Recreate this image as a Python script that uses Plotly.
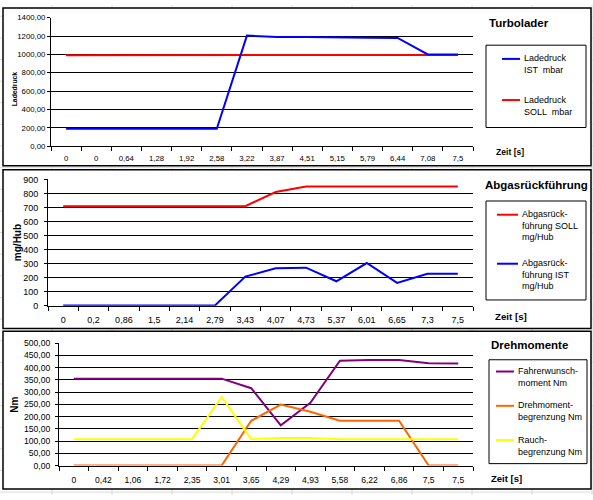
import plotly.graph_objects as go

# --- data ----------------------------------------------------------------
turbo_time = ["0", "0", "0,64", "1,28", "1,92", "2,58", "3,22", "3,87",
              "4,51", "5,15", "5,79", "6,44", "7,08", "7,5"]
ladedruck_ist = [190, 190, 190, 190, 190, 190, 1205, 1190, 1190, 1190, 1182, 1180, 1000, 1000]
ladedruck_soll = [990, 990, 990, 990, 990, 990, 990, 990, 990, 990, 990, 990, 990, 995]

abgas_time = ["0", "0,2", "0,86", "1,5", "2,14", "2,79", "3,43", "4,07",
              "4,73", "5,37", "6,01", "6,65", "7,3", "7,5"]
abgas_soll = [710, 710, 710, 710, 710, 710, 710, 810, 850, 850, 850, 850, 850, 850]
abgas_ist = [3, 3, 3, 3, 3, 3, 208, 268, 272, 175, 305, 163, 228, 228]

dreh_time = ["0", "0,42", "1,06", "1,72", "2,35", "3,01", "3,65", "4,29",
             "4,93", "5,58", "6,22", "6,86", "7,5", "7,5"]
fahrerwunsch = [355, 355, 355, 355, 355, 355, 316, 164, 256, 428, 431, 431, 418, 417]
drehmoment_begr = [0, 0, 0, 0, 0, 0, 183, 249, 220, 183, 183, 183, 0, 0]
rauch_begr = [108, 108, 108, 108, 108, 280, 108, 113, 113, 108, 108, 108, 108, 108]

panel_titles = ["Turbolader", "Abgasrückführung", "Drehmomente"]
y_titles = ["Ladedruck", "mg/Hub", "Nm"]
x_title = "Zeit [s]"

legend_turbo = ["Ladedruck<br>IST  mbar", "Ladedruck<br>SOLL  mbar"]
legend_abgas = ["Abgasrück-<br>führung SOLL<br>mg/Hub", "Abgasrück-<br>führung IST<br>mg/Hub"]
legend_dreh = ["Fahrerwunsch-<br>moment Nm", "Drehmoment-<br>begrenzung Nm", "Rauch-<br>begrenzung Nm"]

W, H = 593, 500
FONT = "Liberation Sans, Arial, sans-serif"
BLUE, RED = "#0000FF", "#FF0000"
PURPLE, ORANGE, YELLOW = "#800080", "#FF6600", "#FFFF00"


def px(x):
    return x / W


def py(y):
    return 1 - y / H


fig = go.Figure()

series = [
    (1, turbo_time, ladedruck_soll, RED),
    (1, turbo_time, ladedruck_ist, BLUE),
    (2, abgas_time, abgas_soll, RED),
    (2, abgas_time, abgas_ist, BLUE),
    (3, dreh_time, fahrerwunsch, PURPLE),
    (3, dreh_time, drehmoment_begr, ORANGE),
    (3, dreh_time, rauch_begr, YELLOW),
]
for n, cats, vals, col in series:
    fig.add_trace(go.Scatter(
        x=list(range(len(cats))), y=vals, mode="lines",
        line=dict(color=col, width=2),
        xaxis="x" if n == 1 else f"x{n}",
        yaxis="y" if n == 1 else f"y{n}",
        showlegend=False, hoverinfo="skip",
    ))

# panel geometry in pixels: plot area left, right, top, bottom
plots = {
    1: dict(l=51, r=473, t=13, b=144, cats=turbo_time, yr=[0, 1400], dt=200, fmt=".2f",
            tf=7.8, xlen=5, stand=0),
    2: dict(l=48, r=473, t=178, b=307, cats=abgas_time, yr=[0, 900], dt=100, fmt="d",
            tf=9, xlen=5, stand=4),
    3: dict(l=59, r=473, t=345, b=470, cats=dreh_time, yr=[0, 500], dt=50, fmt=".2f",
            tf=8.6, xlen=6, stand=3),
}

layout = dict(
    width=W, height=H, margin=dict(l=0, r=0, t=0, b=0),
    paper_bgcolor="white", plot_bgcolor="#C0C0C0",
    separators=",.", font=dict(family=FONT, color="black"),
)
for n, p in plots.items():
    xa = "xaxis" if n == 1 else f"xaxis{n}"
    ya = "yaxis" if n == 1 else f"yaxis{n}"
    layout[xa] = dict(
        domain=[px(p["l"]), px(p["r"])], anchor="y" if n == 1 else f"y{n}",
        range=[-0.5, len(p["cats"]) - 0.5],
        tickmode="array", tickvals=list(range(len(p["cats"]))), ticktext=p["cats"],
        ticks="outside", ticklen=p["xlen"], tickcolor="rgba(0,0,0,0)",
        minor=dict(tick0=-0.5, dtick=1, ticks="outside", ticklen=4,
                   tickcolor="black", showgrid=False),
        showgrid=False, zeroline=False, showline=True, linecolor="black", linewidth=1,
        tickfont=dict(size=p["tf"]), fixedrange=True,
    )
    layout[ya] = dict(
        domain=[py(p["b"]), py(p["t"])], anchor="x" if n == 1 else f"x{n}",
        range=p["yr"], dtick=p["dt"], tick0=0, tickformat=p["fmt"],
        ticks="outside", ticklen=3, tickcolor="black",
        ticklabelstandoff=p["stand"],
        showgrid=True, gridcolor="black", gridwidth=1,
        zeroline=False, showline=True, linecolor="black", linewidth=1,
        tickfont=dict(size=p["tf"]), fixedrange=True,
    )
fig.update_layout(**layout)

shapes = []
# faint spreadsheet cell grid behind the charts
for gx in range(52, W, 60):
    shapes.append(dict(type="line", xref="paper", yref="paper", layer="below",
                       x0=px(gx), x1=px(gx), y0=0, y1=1,
                       line=dict(color="#DADADA", width=1)))
for k in range(-8, 16):
    gy = 166 + 22.07 * k
    if 0 <= gy <= H:
        shapes.append(dict(type="line", xref="paper", yref="paper", layer="below",
                           x0=0, x1=1, y0=py(gy), y1=py(gy),
                           line=dict(color="#DADADA", width=1)))
# chart frames
for top, bot in [(3, 164), (168, 330), (333, 494)]:
    shapes.append(dict(type="rect", xref="paper", yref="paper", layer="below",
                       x0=px(3), x1=px(591), y0=py(bot), y1=py(top),
                       fillcolor="white", line=dict(color="black", width=1.5)))

annotations = []


def text(x, y, s, size, bold=False, angle=0, xanchor="left"):
    annotations.append(dict(
        xref="paper", yref="paper", x=px(x), y=py(y), text=f"<b>{s}</b>" if bold else s,
        showarrow=False, xanchor=xanchor, yanchor="middle", align="left",
        textangle=angle, font=dict(family=FONT, size=size, color="black")))


# titles, axis titles
text(487, 18, panel_titles[0], 11.5, bold=True)
text(483, 184, panel_titles[1], 11.5, bold=True)
text(489, 347, panel_titles[2], 11.5, bold=True)
text(14, 86, y_titles[0], 6.8, bold=True, angle=-90, xanchor="center")
text(17, 243, y_titles[1], 10, bold=True, angle=-90, xanchor="center")
text(15, 408, y_titles[2], 10, bold=True, angle=-90, xanchor="center")
text(494, 150, x_title, 8.6, bold=True)
text(493, 318, x_title, 9.7, bold=True)
text(489, 483, x_title, 9.5, bold=True)

# legend boxes and entries
legends = [
    (dict(x0=486, x1=586, y0=41, y1=125), 502, 520, 522,
     [(legend_turbo[0], BLUE, 55, 2), (legend_turbo[1], RED, 97, 2)]),
    (dict(x0=486, x1=586, y0=200, y1=301), 497, 518, 520,
     [(legend_abgas[0], RED, 214, 3), (legend_abgas[1], BLUE, 264, 3)]),
    (dict(x0=489, x1=587, y0=362, y1=468), 496, 514, 516,
     [(legend_dreh[0], PURPLE, 374, 2), (legend_dreh[1], ORANGE, 409, 2),
      (legend_dreh[2], YELLOW, 444, 2)]),
]
for box, s0, s1, tx, entries in legends:
    shapes.append(dict(type="rect", xref="paper", yref="paper",
                       x0=px(box["x0"]), x1=px(box["x1"]),
                       y0=py(box["y1"]), y1=py(box["y0"]),
                       fillcolor="white", line=dict(color="black", width=1)))
    for label, col, ly, nlines in entries:
        shapes.append(dict(type="line", xref="paper", yref="paper",
                           x0=px(s0), x1=px(s1), y0=py(ly), y1=py(ly),
                           line=dict(color=col, width=2)))
        text(tx, ly + 5.6 * (nlines - 1), label, 9)

fig.update_layout(shapes=shapes, annotations=annotations)
# drop the default 8px body margin so the 593x500 figure fills the window
fig.write_html("out.html", config={"displayModeBar": False},
               post_script="document.body.style.margin='0';")
